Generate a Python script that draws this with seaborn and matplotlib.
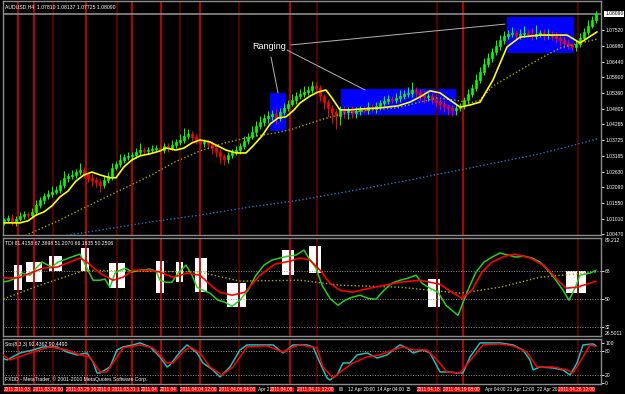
import numpy as np
import matplotlib
matplotlib.use("Agg")
import matplotlib.pyplot as plt
import matplotlib.transforms as mtransforms
from matplotlib.patches import Rectangle
import seaborn as sns

# ---------------- DATA ----------------
title_text = "AUDUSD,H4  1.07810 1.08137 1.07725 1.08090"
tdi_text = "TDI 81.4158 67.3698 51.2070 66.1635 50.2506"
sto_text = "Sto(8,3,3) 92.4362 90.4490"
copyright_text = "FXDD - MetaTrader, \u00a9 2001-2010 MetaQuotes Software Corp."

first_open = 1.0092
close = [
    1.0096, 1.0103, 1.0089, 1.0100, 1.0110, 1.0117, 1.0113, 1.0124, 1.0148, 1.0165,
    1.0179, 1.0186, 1.0193, 1.0200, 1.0217, 1.0242, 1.0249, 1.0252, 1.0262, 1.0269,
    1.0255, 1.0242, 1.0235, 1.0228, 1.0217, 1.0235, 1.0249, 1.0276, 1.0290, 1.0304,
    1.0314, 1.0318, 1.0321, 1.0331, 1.0338, 1.0335, 1.0338, 1.0342, 1.0345, 1.0338,
    1.0352, 1.0345, 1.0356, 1.0366, 1.0373, 1.0387, 1.0394, 1.0383, 1.0373, 1.0363,
    1.0366, 1.0359, 1.0345, 1.0331, 1.0318, 1.0307, 1.0321, 1.0331, 1.0338, 1.0352,
    1.0370, 1.0383, 1.0401, 1.0421, 1.0435, 1.0449, 1.0456, 1.0463, 1.0449, 1.0470,
    1.0484, 1.0498, 1.0511, 1.0525, 1.0532, 1.0539, 1.0546, 1.0560, 1.0553, 1.0525,
    1.0504, 1.0484, 1.0470, 1.0456, 1.0477, 1.0470, 1.0477, 1.0466, 1.0473, 1.0480,
    1.0477, 1.0487, 1.0480, 1.0491, 1.0501, 1.0508, 1.0515, 1.0511, 1.0518, 1.0525,
    1.0532, 1.0536, 1.0546, 1.0539, 1.0529, 1.0522, 1.0525, 1.0515, 1.0504, 1.0498,
    1.0491, 1.0484, 1.0477, 1.0484, 1.0491, 1.0511, 1.0532, 1.0553, 1.0581, 1.0608,
    1.0636, 1.0657, 1.0677, 1.0698, 1.0719, 1.0733, 1.0740, 1.0743, 1.0736, 1.0740,
    1.0743, 1.0740, 1.0733, 1.0740, 1.0743, 1.0736, 1.0740, 1.0733, 1.0726, 1.0719,
    1.0709, 1.0702, 1.0695, 1.0705, 1.0726, 1.0747, 1.0767, 1.0788, 1.0809,
]
wick_up = [  # pips above body
    8, 10, 12, 9, 15, 10, 8, 14, 18, 12,
    10, 14, 20, 12, 16, 22, 10, 18, 12, 25,
    10, 8, 12, 9, 10, 14, 12, 18, 10, 20,
    12, 15, 10, 14, 25, 10, 12, 15, 10, 14,
    12, 10, 16, 12, 20, 28, 18, 10, 12, 8,
    10, 8, 9, 12, 10, 8, 12, 10, 14, 10,
    18, 14, 20, 16, 22, 15, 18, 12, 20, 14,
    16, 12, 20, 15, 18, 22, 14, 16, 12, 10,
    8, 12, 10, 9, 12, 15, 10, 12, 14, 10,
    12, 16, 10, 14, 12, 18, 14, 10, 16, 20,
    14, 20, 28, 12, 10, 14, 12, 10, 16, 10,
    12, 8, 10, 14, 10, 12, 18, 15, 20, 16,
    22, 18, 15, 20, 16, 18, 14, 20, 12, 16,
    24, 14, 20, 30, 12, 15, 18, 10, 12, 14,
    10, 12, 8, 14, 16, 12, 20, 15, 10,
]
wick_dn = [  # pips below body
    12, 8, 10, 14, 9, 12, 10, 8, 12, 10,
    14, 10, 12, 8, 10, 12, 14, 10, 9, 12,
    14, 16, 20, 18, 24, 12, 10, 14, 8, 10,
    12, 10, 14, 9, 10, 12, 10, 8, 12, 14,
    10, 12, 8, 10, 12, 10, 9, 12, 14, 16,
    14, 18, 20, 16, 24, 22, 14, 12, 10, 12,
    10, 12, 8, 14, 10, 12, 16, 14, 20, 10,
    12, 10, 8, 12, 10, 9, 12, 10, 14, 18,
    24, 30, 40, 45, 30, 20, 24, 18, 16, 14,
    12, 14, 10, 12, 14, 10, 12, 9, 10, 12,
    10, 12, 14, 16, 18, 20, 14, 16, 18, 20,
    22, 24, 20, 16, 12, 10, 12, 9, 10, 12,
    10, 12, 14, 10, 12, 14, 10, 12, 16, 14,
    12, 10, 14, 12, 10, 16, 12, 14, 18, 20,
    16, 14, 12, 14, 10, 12, 10, 8, 10,
]

# moving averages (bar index, price)
ma_fast_x = [0, 4, 6, 8, 10, 12, 14, 16, 18, 20, 22, 24, 26.5, 28, 30, 32, 34, 36.5, 39, 40.5,
             43, 45, 47, 49, 51.5, 53.5, 55.5, 58, 60.5, 62.5, 64.5, 66.5, 68.5, 70.5, 72.5,
             74, 76.5, 78.5, 80.5, 82, 84, 86.5, 89, 94, 98.5, 101.5, 104, 106.5, 109, 111.5,
             114, 116.5, 119, 122.25, 125.75, 129, 134, 140.75, 144, 148.25]
ma_fast_y = [1.0086, 1.0086, 1.0093, 1.0113, 1.0124, 1.0145, 1.0176, 1.0196, 1.0231, 1.0252,
             1.0262, 1.0252, 1.0242, 1.0242, 1.0280, 1.0304, 1.0318, 1.0325, 1.0335, 1.0345,
             1.0338, 1.0345, 1.0363, 1.0373, 1.0366, 1.0352, 1.0338, 1.0328, 1.0328, 1.0356,
             1.0387, 1.0428, 1.0449, 1.0453, 1.0477, 1.0501, 1.0525, 1.0539, 1.0546, 1.0518,
             1.0477, 1.0477, 1.0480, 1.0484, 1.0491, 1.0504, 1.0522, 1.0543, 1.0536, 1.0511,
             1.0487, 1.0494, 1.0504, 1.0581, 1.0695, 1.0729, 1.0736, 1.0736, 1.0709, 1.0747]
ma_mid_x = [4.5, 9, 14, 19, 24, 30.25, 36.5, 42.75, 49, 55.25, 61.5, 67.75, 71.5, 79, 85.25,
            91.5, 98.25, 104, 108.25, 112.75, 116.5, 119, 122.25, 126.5, 130.75, 134.75,
            139, 142.75, 148.25]
ma_mid_y = [1.0037, 1.0065, 1.0096, 1.0131, 1.0165, 1.0207, 1.0249, 1.0297, 1.0335, 1.0363,
            1.0383, 1.0397, 1.0408, 1.0442, 1.0466, 1.0477, 1.0484, 1.0504, 1.0518, 1.0511,
            1.0501, 1.0511, 1.0560, 1.0594, 1.0629, 1.0660, 1.0691, 1.0705, 1.0722]
ma_slow_x = [13, 24, 36.5, 49, 61.5, 74, 86.5, 99, 111.5, 124, 134, 141.5, 148.5]
ma_slow_y = [1.0037, 1.0061, 1.0089, 1.0113, 1.0141, 1.0165, 1.0196, 1.0228, 1.0262, 1.0297,
             1.0325, 1.0352, 1.0377]
bid_price = 1.08090

price_ticks = [1.07520, 1.06980, 1.06440, 1.05900, 1.05360, 1.04805, 1.04265, 1.03725,
               1.03185, 1.02630, 1.02090, 1.01550, 1.01010, 1.00470]

# ranging boxes on price chart: (x0, x1, low, high)
range_x0 = [66.5, 84.25, 125.75]
range_x1 = [70.5, 113.0, 142.5]
range_lo = [1.0404, 1.0460, 1.0674]
range_hi = [1.0536, 1.0549, 1.0799]
ranging_label = "Ranging"
ranging_pos = (62.0, 1.0695)
pointer_lines = [(71.75, 1.0702, 125.25, 1.0774),
                 (70.75, 1.0684, 90.25, 1.0546),
                 (66.75, 1.0660, 68.5, 1.0536)]

# TDI
tdi_green_x = [-1, 1, 3, 4.5, 6.5, 8, 9.5, 10.5, 12, 13.5, 15.5, 17.5, 19, 20.5, 22.25, 24,
               25.25, 26.5, 27.75, 29, 30.5, 32, 34, 36.5, 38, 39, 40.5, 42, 43.5, 45.5, 47,
               48.25, 49.75, 51.5, 53.5, 55.25, 57, 59, 61, 63, 65, 67, 69, 71, 73, 75, 76.5,
               78, 79.5, 81.5, 83.5, 85.25, 87, 89, 91, 93, 95, 97, 99, 101, 103, 104.5, 106.5,
               108.5, 110.5, 112, 113.5, 115, 116.5, 118, 120, 122, 124, 126, 128, 130, 132,
               134, 136, 138, 139.75, 141.25, 142.75, 144, 146.5, 148]
tdi_green_y = [60.9, 61.6, 63.5, 66.7, 65.4, 69.9, 73.8, 72.5, 70.6, 73.8, 75.7, 77.6, 78.9,
               71.2, 62.2, 62.2, 62.9, 57.7, 66.7, 68.6, 69.9, 67.4, 68.6, 69.3, 68.0, 62.2,
               60.9, 60.9, 66.7, 71.9, 65.4, 57.7, 55.8, 53.9, 49.4, 48.1, 45.5, 49.4, 55.8,
               65.4, 71.9, 75.1, 76.4, 77.6, 78.3, 81.5, 75.1, 69.9, 59.0, 50.6, 46.1, 49.4,
               51.3, 52.6, 50.6, 50.0, 55.8, 60.3, 62.2, 63.5, 65.4, 60.3, 57.1, 54.5, 46.1,
               42.9, 39.7, 49.4, 59.0, 67.4, 73.8, 77.0, 79.6, 78.3, 77.0, 77.6, 76.4, 73.8,
               68.6, 62.2, 55.8, 49.4, 57.1, 65.4, 66.7, 68.6]
tdi_red_x = [-1, 1.5, 4, 7.25, 9.75, 13.25, 15.75, 19, 20.75, 24, 27.25, 29.75, 32.25, 36.5,
             39, 42.25, 45.75, 49, 52.25, 54, 57, 60.25, 64, 67.75, 71.5, 74, 76.5, 79, 81.5,
             84, 87, 90.25, 94, 99, 104, 109, 112, 114.5, 117, 119.5, 122, 125.25, 127.75,
             131.5, 135.25, 138, 140.5, 143.25, 146.5, 148]
tdi_red_y = [64.1, 63.5, 64.1, 67.4, 69.9, 70.6, 73.1, 76.4, 73.8, 66.7, 62.2, 64.1, 68.6,
             68.6, 67.4, 64.1, 66.7, 65.4, 57.7, 54.5, 52.6, 54.5, 65.4, 72.5, 74.4, 76.4,
             75.1, 68.6, 60.3, 55.8, 54.5, 56.4, 58.4, 60.9, 62.2, 59.6, 54.5, 50.6, 55.8,
             67.4, 73.8, 77.6, 78.9, 76.4, 71.2, 63.5, 57.1, 57.7, 60.3, 61.6]
tdi_base_x = [-1, 9, 20.25, 34, 49, 59, 74, 84, 99, 114, 124, 134, 148]
tdi_base_y = [49.4, 59.0, 68.6, 68.0, 67.4, 61.6, 62.2, 59.0, 57.7, 53.9, 57.7, 64.1, 67.4]
tdi_levels = [68, 50, 32]
tdi_top, tdi_bottom = 89.212, 26.5011
# white boxes on TDI window: (x0, x1, low, high)
tbox_x0 = [2.5, 5.5, 11.25, 19.25, 26.25, 38, 43, 47.75, 55.75, 69.5, 76.25, 106, 140.5]
tbox_x1 = [4.5, 9.5, 14.5, 21.25, 30.25, 40, 44.75, 50.75, 60.5, 72.5, 79.25, 109, 145.5]
tbox_lo = [55.8, 60.9, 68.0, 68.0, 57.1, 53.9, 60.9, 54.5, 44.9, 65.4, 66.7, 44.9, 53.9]
tbox_hi = [71.9, 73.8, 77.6, 82.8, 73.1, 74.4, 73.8, 76.4, 60.3, 81.5, 84.1, 62.9, 68.0]

# Stochastic
sto_main_x = [-1, 0.75, 4, 7.25, 9.75, 13.25, 15.75, 18.25, 20.75, 22.25, 23.25, 24, 26.5,
              28.25, 29.75, 32.25, 34, 36.5, 39, 40.75, 41.5, 44, 45.75, 48.25, 49.75, 52.25,
              54, 56.5, 59, 60.75, 64, 67.25, 69.75, 72.25, 75.75, 77.25, 79, 80.75, 81.5,
              83.25, 84.75, 86.5, 88.25, 90.75, 93.25, 95.75, 98.25, 99, 100.75, 102.25,
              104.75, 106.5, 109, 111.5, 113.25, 114.75, 116.5, 119, 122.25, 124, 127.25,
              129.75, 131.5, 132.25, 134, 137.25, 139.75, 141.5, 143.25, 144.75, 147.25, 148]
sto_main_y = [64.5, 57.1, 74.4, 81.9, 89.3, 89.3, 76.9, 69.5, 74.4, 52.1, 24.8, 24.8, 39.7,
              81.9, 89.3, 94.3, 99.3, 89.3, 64.5, 39.7, 44.7, 76.9, 94.3, 74.4, 49.6, 32.3,
              14.9, 39.7, 81.9, 94.3, 94.3, 94.3, 74.4, 94.3, 94.3, 89.3, 49.6, 12.4, 7.4,
              19.9, 49.6, 49.6, 69.5, 74.4, 62.0, 69.5, 89.3, 94.3, 86.8, 74.4, 81.9, 74.4,
              27.3, 27.3, 24.8, 24.8, 64.5, 99.3, 99.3, 99.3, 94.3, 81.9, 57.1, 32.3, 39.7,
              37.2, 32.3, 19.9, 49.6, 94.3, 96.8, 92.4]
sto_sig_x = [-1, 1.5, 7.25, 11.5, 15.75, 19, 21.5, 24, 25.75, 28.25, 29.75, 34, 37.25, 40.75,
             42.25, 44.75, 46.5, 49, 51.5, 54.5, 57.25, 60.75, 65.75, 69.75, 72.25, 74, 78.25,
             79.75, 82.25, 84.75, 87.25, 90.75, 94, 97.25, 99.75, 102.25, 105.75, 108.25,
             110.75, 114, 117.25, 119.75, 124, 127.25, 130.75, 133.25, 137.25, 140.75,
             142.25, 144.75, 146.5, 148]
sto_sig_y = [74.4, 57.1, 76.9, 89.3, 81.9, 69.5, 64.5, 27.3, 27.3, 64.5, 86.8, 94.3, 86.8,
             49.6, 49.6, 76.9, 89.3, 74.4, 39.7, 19.9, 39.7, 89.3, 91.8, 76.9, 89.3, 94.3,
             86.8, 39.7, 12.4, 32.3, 49.6, 64.5, 69.5, 81.9, 89.3, 81.9, 81.9, 57.1, 27.3,
             24.8, 64.5, 94.3, 96.8, 91.8, 76.9, 39.7, 39.7, 32.3, 24.8, 64.5, 94.3, 90.4]
sto_levels = [80, 20]
sto_ticks = [100, 80, 20, 0]

# vertical lines (bar index), style, and the visible part of each time label
vline_idx = [3.5, 7.5, 12.25, 20.5, 28.25, 32, 39.25, 44, 49, 58.75, 71.5, 78.25, 108.25,
             114.75, 143.5]
vline_dark = [False, False, True, False, True, False, False, True, False, True, False, True,
              True, False, True]
vline_labels = ["2011", "2011.03", "2011.03.28 00", "2011.03.29 16", "2011.0",
                "2011.03.31 1", "2011.04", "2011.04", "2011.04.04 12:00",
                "2011.04.06 04:00", "2011.04.08", "2011.04.11 12:00", "2011.04.18",
                "2011.04.19 08:00", "2011.04.26 12:00"]
time_tick_idx = [63.4, 83.75, 86, 93.25, 100.5, 120.25, 125.75, 133.25]
time_tick_labels = ["Apr 2", "00", "12 Apr 20:00", "14 Apr 04:00", "15", "Apr 04:00",
                    "21 Apr 12:00", "22 Apr 20"]

# ---------------- STYLE ----------------
sns.set_theme(style="dark")
plt.rcParams['font.family'] = ['Liberation Sans', 'DejaVu Sans']
plt.rcParams['axes.facecolor'] = 'black'
plt.rcParams['figure.facecolor'] = 'black'

W, H = 625, 394
fig = plt.figure(figsize=(W / 100, H / 100), dpi=100, facecolor='black')


def panel(top, bottom):
    return fig.add_axes([3 / W, 1 - bottom / H, 598 / W, (bottom - top) / H])


ax1 = panel(1, 235)
ax2 = panel(238, 336)
ax3 = panel(339, 384)
n = len(close)
for ax in (ax1, ax2, ax3):
    ax.set_facecolor('black')
    ax.set_xlim(-0.25, n + 0.25)
    ax.grid(False)
    for s in ax.spines.values():
        s.set_color('#8c8c8c')
        s.set_linewidth(1.0)
    ax.tick_params(axis='x', bottom=False, labelbottom=False)
    ax.yaxis.tick_right()
    ax.tick_params(axis='y', colors='white', labelsize=3.6, length=2, width=0.6, pad=1,
                   direction='out')
    for vi, dk in zip(vline_idx, vline_dark):
        ax.axvline(vi, color='#5e0000' if dk else '#c80000', lw=1.3, zorder=2)

# ---- main price window ----
ax1.set_ylim(1.0044, 1.0854)
for x0, x1, lo, hi in zip(range_x0, range_x1, range_lo, range_hi):
    ax1.add_patch(Rectangle((x0, lo), x1 - x0, hi - lo, facecolor='#0000ff',
                            edgecolor='none', zorder=1))

idx = np.arange(n)
c = np.array(close)
o = np.r_[first_open, c[:-1]]
top = np.maximum(o, c)
bot = np.minimum(o, c)
hi = top + np.array(wick_up) / 10000.0
lo = bot - np.array(wick_dn) / 10000.0
cols = np.where(c >= o, '#00ff00', '#ff0000')
ax1.vlines(idx, lo, hi, colors=cols, lw=0.75, zorder=4)
ax1.bar(idx, top - bot, bottom=bot, width=0.66, color=cols, edgecolor=cols,
        linewidth=0.5, zorder=5)

sns.lineplot(x=ma_slow_x, y=ma_slow_y, ax=ax1, color='#2a6fd0', lw=1.0,
             linestyle=(0, (1, 1.6)), sort=False, estimator=None, zorder=6)
sns.lineplot(x=ma_mid_x, y=ma_mid_y, ax=ax1, color='#a8a800', lw=1.0,
             linestyle=(0, (1, 1.6)), sort=False, estimator=None, zorder=6)
sns.lineplot(x=ma_fast_x, y=ma_fast_y, ax=ax1, color='#ffff00', lw=1.2,
             sort=False, estimator=None, zorder=7)

ax1.axhline(bid_price, color='#8c8c8c', lw=1.2, zorder=3)
ax1.set_yticks(price_ticks)
ax1.set_yticklabels(["%.5f" % p for p in price_ticks])
ax1.annotate("%.5f" % bid_price, xy=(1.0, bid_price), xycoords=('axes fraction', 'data'),
             xytext=(3, 0), textcoords='offset points', fontsize=3.6, color='black',
             va='center', ha='left',
             bbox=dict(boxstyle='square,pad=0.15', fc='white', ec='none'),
             annotation_clip=False)

for (x0, y0, x1, y1) in pointer_lines:
    ax1.plot([x0, x1], [y0, y1], color='#b4b4b4', lw=0.7, zorder=8)
ax1.text(ranging_pos[0], ranging_pos[1], ranging_label, color='white', fontsize=6.5,
         ha='left', va='center', zorder=9)
ax1.text(0.004, 0.985, title_text, transform=ax1.transAxes, color='white', fontsize=3.7,
         ha='left', va='top', zorder=9)

# ---- TDI window ----
ax2.set_ylim(tdi_bottom, tdi_top)
for x0, x1, lo_, hi_ in zip(tbox_x0, tbox_x1, tbox_lo, tbox_hi):
    ax2.add_patch(Rectangle((x0, lo_), x1 - x0, hi_ - lo_, facecolor='white',
                            edgecolor='none', zorder=1))
for lv in tdi_levels:
    ax2.axhline(lv, color='#9a9a9a', lw=0.7, linestyle=(0, (1, 1.6)), zorder=2.5)
sns.lineplot(x=tdi_base_x, y=tdi_base_y, ax=ax2, color='#b0b000', lw=1.0,
             linestyle=(0, (1, 1.6)), sort=False, estimator=None, zorder=3)
sns.lineplot(x=tdi_green_x, y=tdi_green_y, ax=ax2, color='#22d022', lw=1.1,
             sort=False, estimator=None, zorder=4)
sns.lineplot(x=tdi_red_x, y=tdi_red_y, ax=ax2, color='#ff0000', lw=1.2,
             sort=False, estimator=None, zorder=5)
ax2.set_yticks(tdi_levels)
ax2.set_yticklabels([str(v) for v in tdi_levels])
for val, lab, va in ((tdi_top, "89.212", 'top'), (tdi_bottom, "26.5011", 'bottom')):
    ax2.annotate(lab, xy=(1.0, val), xycoords=('axes fraction', 'data'), xytext=(3, 0),
                 textcoords='offset points', fontsize=3.6, color='white', va=va,
                 ha='left', annotation_clip=False)
ax2.text(0.004, 0.97, tdi_text, transform=ax2.transAxes, color='white', fontsize=3.7,
         ha='left', va='top', zorder=9)

# ---- Stochastic window ----
ax3.set_ylim(-2.5, 109)
for lv in sto_levels:
    ax3.axhline(lv, color='#9a9a9a', lw=0.7, linestyle=(0, (1, 1.6)), zorder=2.5)
sns.lineplot(x=sto_main_x, y=sto_main_y, ax=ax3, color='#20c0c0', lw=1.1,
             sort=False, estimator=None, zorder=4)
sns.lineplot(x=sto_sig_x, y=sto_sig_y, ax=ax3, color='#ff0000', lw=1.1,
             sort=False, estimator=None, zorder=5)
ax3.set_yticks(sto_ticks)
ax3.set_yticklabels([str(v) for v in sto_ticks])
ax3.text(0.004, 0.93, sto_text, transform=ax3.transAxes, color='white', fontsize=3.7,
         ha='left', va='top', zorder=9)
ax3.text(0.003, 0.04, copyright_text, transform=ax3.transAxes, color='white',
         fontsize=3.7, ha='left', va='bottom', zorder=9)

for ax in (ax1, ax2, ax3):
    ax.set_xlabel('')
    ax.set_ylabel('')
    if ax.get_legend() is not None:
        ax.get_legend().remove()

# ---- time axis ----
trans = mtransforms.blended_transform_factory(ax3.transData, fig.transFigure)
ylab = 1 - 389.5 / H
for ti, tl in zip(time_tick_idx, time_tick_labels):
    fig.text(ti, ylab, tl, transform=trans, color='white', fontsize=3.4,
             ha='left', va='center', zorder=1)
for k, (vi, vl) in enumerate(zip(vline_idx, vline_labels)):
    # each MT4 label is centred on its line (about 10 bars wide); only its left part shows
    fig.text(max(vi - 5.0, 0.0), ylab, vl, transform=trans, color='white', fontsize=3.4,
             ha='left', va='center', zorder=2 + k * 0.01,
             bbox=dict(boxstyle='square,pad=0.1', fc='#ff0000', ec='none'))

fig.savefig("out.png", dpi=100, facecolor='black')
